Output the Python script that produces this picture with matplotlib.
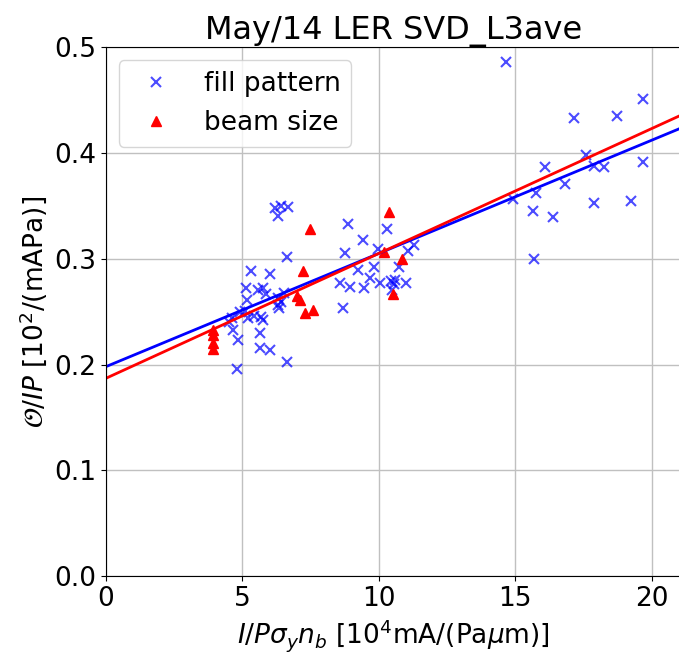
import numpy as np
import matplotlib

matplotlib.use("Agg")
import matplotlib.pyplot as plt

# fill pattern data (x: I/P sigma_y n_b, y: O/IP)
fill_x = [14.67, 17.17, 18.71, 19.67, 17.61, 16.10, 17.90, 18.24, 19.67, 14.93,
          15.77, 16.84, 15.66, 16.40, 17.90, 19.23, 15.70,
          6.20, 6.40, 6.69, 6.29, 6.62, 5.33, 6.03, 5.15, 5.59, 5.77, 5.88, 6.51,
          5.18, 6.32, 4.67, 4.93, 4.63, 4.85, 5.66, 5.66, 6.03, 6.62, 4.82, 5.22,
          5.44, 5.70, 5.77, 5.11, 6.36, 6.40, 6.29, 4.50,
          8.86, 10.29, 9.41, 8.75, 9.96, 11.07, 11.29, 9.23, 9.82, 10.74, 9.67,
          8.57, 8.93, 9.45, 10.04, 10.44, 10.55, 10.99, 8.68, 10.50, 10.60]
fill_y = [0.486, 0.433, 0.435, 0.451, 0.398, 0.387, 0.388, 0.387, 0.391, 0.356,
          0.362, 0.371, 0.345, 0.339, 0.353, 0.355, 0.300,
          0.348, 0.350, 0.349, 0.340, 0.302, 0.288, 0.286, 0.272, 0.270, 0.272, 0.267, 0.268,
          0.261, 0.256, 0.233, 0.250, 0.244, 0.223, 0.230, 0.216, 0.214, 0.202, 0.196, 0.244,
          0.246, 0.245, 0.242, 0.251, 0.253, 0.259, 0.263, 0.240,
          0.333, 0.328, 0.318, 0.305, 0.309, 0.307, 0.313, 0.289, 0.292, 0.292, 0.282,
          0.277, 0.273, 0.272, 0.277, 0.279, 0.276, 0.277, 0.253, 0.270, 0.280]

# beam size data
beam_x = [3.93, 3.93, 3.93, 3.93, 7.02, 7.13, 7.24, 7.46, 7.28, 7.57,
          10.37, 10.20, 10.85, 10.51]
beam_y = [0.233, 0.228, 0.220, 0.215, 0.265, 0.261, 0.288, 0.328, 0.249, 0.252,
          0.344, 0.306, 0.300, 0.267]

# linear fits (intercept, slope)
fill_fit = [0.198, 0.0107]
beam_fit = [0.187, 0.0118]

xmax = 21.05

fig = plt.figure(figsize=(6.79, 6.54), dpi=100)
ax = fig.add_axes([0.156, 0.119, 0.846, 0.809])

ax.plot(fill_x, fill_y, "x", color="blue", alpha=0.7, markersize=7,
        markeredgewidth=1.5, label="fill pattern")
ax.plot(beam_x, beam_y, "^", color="red", markersize=7, label="beam size")

xs = np.array([0, xmax])
ax.plot(xs, fill_fit[0] + fill_fit[1] * xs, color="blue", lw=2)
ax.plot(xs, beam_fit[0] + beam_fit[1] * xs, color="red", lw=2)

ax.set_xlim(0, xmax)
ax.set_ylim(0, 0.5)
ax.set_xticks([0, 5, 10, 15, 20])
ax.set_yticks([0.0, 0.1, 0.2, 0.3, 0.4, 0.5])
ax.tick_params(labelsize=19)
ax.grid(True, color="#c0c0c0", lw=1)
ax.set_axisbelow(True)

ax.set_title("May/14 LER SVD_L3ave", fontsize=23)
ax.set_xlabel(r"$I/P\sigma_y n_b$ [$10^4$mA/(Pa$\mu$m)]", fontsize=19)
ax.set_ylabel(r"$\mathcal{O}/IP$ [$10^2$/(mAPa)]", fontsize=19)
ax.legend(loc="upper left", fontsize=19)

fig.savefig("out.png", dpi=100)
